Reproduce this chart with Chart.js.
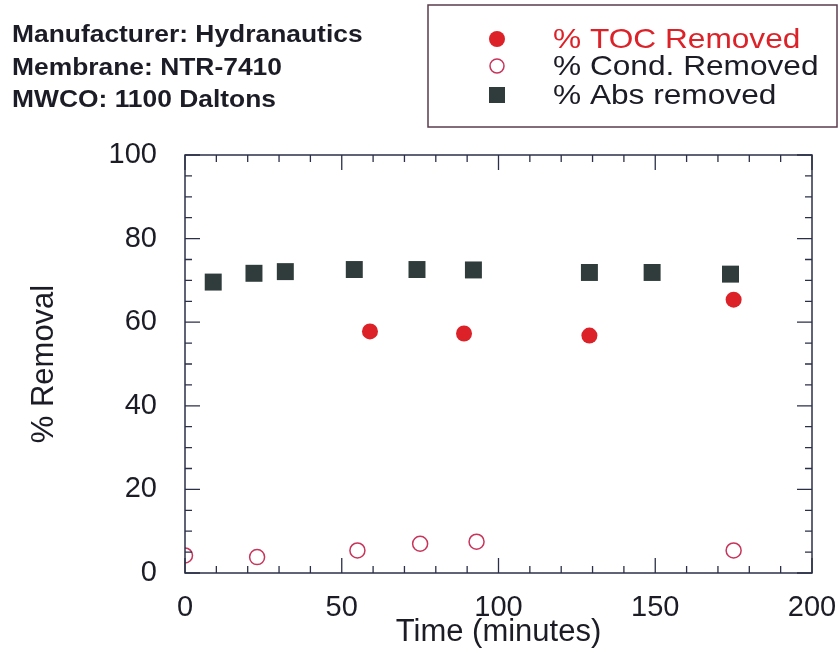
<!DOCTYPE html>
<html>
<head>
<meta charset="utf-8">
<title>% Removal vs Time</title>
<script src="https://cdn.jsdelivr.net/npm/chart.js@4/dist/chart.umd.min.js"></script>
<style>
  html, body { margin: 0; padding: 0; background: #fff; }
  #wrap { width: 840px; height: 653px; }
</style>
</head>
<body>
<div id="wrap"><canvas id="removalChart" width="840" height="653"></canvas></div>
<script>
// % TOC removed
const tocTime = [59, 89, 129, 175];
const tocRemoved = [57.8, 57.3, 56.8, 65.4];

// % conductivity removed
const condTime = [0, 23, 55, 75, 93, 175];
const condRemoved = [4.2, 3.8, 5.4, 7.0, 7.5, 5.4];

// % absorbance removed
const absTime = [9, 22, 32, 54, 74, 92, 129, 149, 174];
const absRemoved = [69.6, 71.7, 72.1, 72.6, 72.6, 72.5, 71.9, 71.9, 71.5];

const xTicks = [0, 50, 100, 150, 200];
const yTicks = [0, 20, 40, 60, 80, 100];

const headerLines = [
  "Manufacturer: Hydranautics",
  "Membrane: NTR-7410",
  "MWCO: 1100 Daltons",
];
const legendLabels = ["% TOC Removed", "% Cond. Removed", "% Abs removed"];

const RED = "#dc2228";
const SQUARE = "#2f3c3b";
const RING = "#c8345a";
const AXIS = "#2b3048";
const TEXT = "#1c1c26";
const FONT = "'Liberation Sans', Arial, Helvetica, sans-serif";

const toXY = (xs, ys) => xs.map((x, i) => ({ x: x, y: ys[i] }));

// frame, inward ticks, header and legend box
const decorations = {
  id: "decorations",
  afterDraw(chart) {
    const ctx = chart.ctx;
    const { left, right, top, bottom } = chart.chartArea;
    const xs = chart.scales.x;
    const ys = chart.scales.y;
    ctx.save();

    ctx.strokeStyle = AXIS;
    ctx.lineWidth = 1.5;
    ctx.strokeRect(left, top, right - left, bottom - top);

    ctx.lineWidth = 1.3;
    ctx.beginPath();
    for (let v = 0; v <= 200; v += 10) {
      const px = xs.getPixelForValue(v);
      const len = v % 50 === 0 ? 15 : 7;
      ctx.moveTo(px, bottom); ctx.lineTo(px, bottom - len);
      ctx.moveTo(px, top); ctx.lineTo(px, top + len);
    }
    for (let v = 0; v <= 100; v += 5) {
      const py = ys.getPixelForValue(v);
      const len = v % 20 === 0 ? 15 : 7;
      ctx.moveTo(left, py); ctx.lineTo(left + len, py);
      ctx.moveTo(right, py); ctx.lineTo(right - len, py);
    }
    ctx.stroke();

    // header text, slightly widened
    ctx.fillStyle = TEXT;
    ctx.font = "bold 24px " + FONT;
    ctx.textBaseline = "alphabetic";
    headerLines.forEach((line, i) => {
      ctx.save();
      ctx.translate(12, 42 + i * 32.5);
      ctx.scale(1.1, 1);
      ctx.fillText(line, 0, 0);
      ctx.restore();
    });

    // legend box
    ctx.strokeStyle = "#5b3b4c";
    ctx.lineWidth = 1.5;
    ctx.strokeRect(428, 5, 409, 122);
    const rows = [39, 66, 95];
    const mx = 497;
    ctx.fillStyle = RED;
    ctx.beginPath(); ctx.arc(mx, rows[0], 8, 0, Math.PI * 2); ctx.fill();
    ctx.strokeStyle = RING;
    ctx.lineWidth = 1.5;
    ctx.beginPath(); ctx.arc(mx, rows[1], 7, 0, Math.PI * 2); ctx.stroke();
    ctx.fillStyle = SQUARE;
    ctx.fillRect(mx - 8, rows[2] - 8, 16, 16);

    ctx.font = "28px " + FONT;
    ctx.textBaseline = "middle";
    legendLabels.forEach((label, i) => {
      ctx.save();
      ctx.fillStyle = i === 0 ? RED : TEXT;
      ctx.translate(553, rows[i] + 1);
      ctx.scale(1.13, 1);
      ctx.fillText(label, 0, 0);
      ctx.restore();
    });

    ctx.restore();
  },
};

new Chart(document.getElementById("removalChart"), {
  type: "scatter",
  data: {
    datasets: [
      {
        label: legendLabels[1],
        data: toXY(condTime, condRemoved),
        pointStyle: "circle",
        pointRadius: 7.5,
        pointBorderWidth: 1.5,
        borderColor: RING,
        backgroundColor: "rgba(255,255,255,0)",
      },
      {
        label: legendLabels[2],
        data: toXY(absTime, absRemoved),
        pointStyle: "rect",
        pointRadius: 12,
        pointBorderWidth: 0,
        borderColor: SQUARE,
        backgroundColor: SQUARE,
      },
      {
        label: legendLabels[0],
        data: toXY(tocTime, tocRemoved),
        pointStyle: "circle",
        pointRadius: 8,
        pointBorderWidth: 0,
        borderColor: RED,
        backgroundColor: RED,
      },
    ],
  },
  options: {
    responsive: false,
    animation: false,
    layout: { padding: { top: 155, right: 28, left: 0, bottom: 0 } },
    plugins: {
      legend: { display: false },
      tooltip: { enabled: false },
    },
    scales: {
      x: {
        type: "linear",
        min: 0,
        max: 200,
        afterFit(scale) {
          scale.height = 80;
          scale.paddingLeft = 0;
          scale.paddingRight = 0;
        },
        afterBuildTicks(scale) { scale.ticks = xTicks.map((v) => ({ value: v })); },
        grid: { display: false, drawTicks: false },
        border: { display: false },
        ticks: {
          padding: 18,
          color: TEXT,
          font: { family: FONT, size: 29 },
          maxRotation: 0,
        },
        title: {
          display: true,
          text: "Time (minutes)",
          color: TEXT,
          font: { family: FONT, size: 31 },
          padding: { top: 0, bottom: 2 },
        },
      },
      y: {
        type: "linear",
        min: 0,
        max: 100,
        afterFit(scale) { scale.width = 185; },
        afterBuildTicks(scale) { scale.ticks = yTicks.map((v) => ({ value: v })); },
        grid: { display: false, drawTicks: false },
        border: { display: false },
        ticks: {
          padding: 28,
          color: TEXT,
          font: { family: FONT, size: 29 },
        },
        title: {
          display: true,
          text: "% Removal",
          color: TEXT,
          font: { family: FONT, size: 31 },
          padding: { top: 26, bottom: 0 },
        },
      },
    },
  },
  plugins: [decorations],
});
</script>
</body>
</html>
